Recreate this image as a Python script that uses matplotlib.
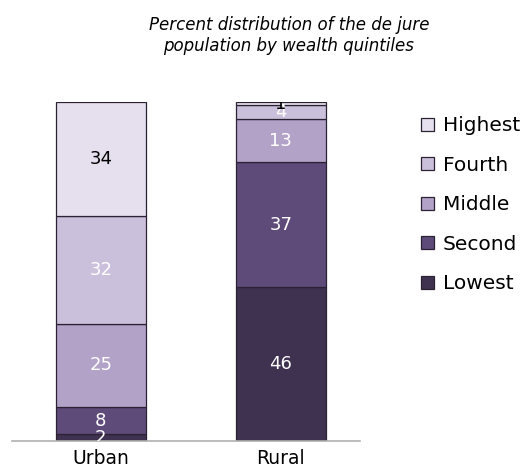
import matplotlib
matplotlib.use("Agg")
import matplotlib.pyplot as plt
import numpy as np

plt.rcParams['font.family'] = ['DejaVu Sans']

categories = ["Urban", "Rural"]
quintiles = ["Lowest", "Second", "Middle", "Fourth", "Highest"]
values = {
    "Lowest": [2, 46],
    "Second": [8, 37],
    "Middle": [25, 13],
    "Fourth": [32, 4],
    "Highest": [34, 1],
}
colors = {
    "Lowest": "#3f3150",
    "Second": "#5f4b7a",
    "Middle": "#b2a2c8",
    "Fourth": "#cbc0dc",
    "Highest": "#e6e0ee",
}
label_colors = {
    "Lowest": ["white", "white"],
    "Second": ["white", "white"],
    "Middle": ["white", "white"],
    "Fourth": ["white", "white"],
    "Highest": ["black", "black"],
}

fig = plt.figure(figsize=(5.3, 4.7), dpi=100)
ax = fig.add_axes([0.0226, 0.0617, 0.6566, 0.7213])

x = np.arange(len(categories))
bottom = np.zeros(len(categories))
handles = {}
for q in quintiles:
    v = np.array(values[q], dtype=float)
    bars = ax.bar(x, v, width=0.5, bottom=bottom, color=colors[q],
                  edgecolor="#2a2233", linewidth=0.9, label=q)
    handles[q] = bars
    for i, b in enumerate(bars):
        cy = bottom[i] + v[i] / 2
        ax.text(x[i], cy, f"{int(v[i])}", ha="center", va="center",
                fontsize=13, color=label_colors[q][i], clip_on=True)
    bottom += v

ax.set_xlim(-0.494, 1.44)
ax.set_ylim(0, 101)
for s in ["top", "right", "left"]:
    ax.spines[s].set_visible(False)
ax.spines["bottom"].set_color("#b0b0b0")
ax.spines["bottom"].set_linewidth(1.2)
ax.set_yticks([])
ax.set_xticks(x)
ax.set_xticklabels(categories, fontsize=13.5)
ax.tick_params(axis="x", length=0, pad=6)

leg = fig.legend([handles[q] for q in reversed(quintiles)], list(reversed(quintiles)),
                 loc="upper left", bbox_to_anchor=(0.78, 0.77), frameon=False,
                 fontsize=14.5, handlelength=0.62, handleheight=0.62,
                 handletextpad=0.45, labelspacing=1.02, borderaxespad=0)

fig.text(0.545, 0.965, "Percent distribution of the de jure\npopulation by wealth quintiles",
         ha="center", va="top", fontsize=12, style="italic", linespacing=1.15)

fig.savefig("out.png", dpi=100)
